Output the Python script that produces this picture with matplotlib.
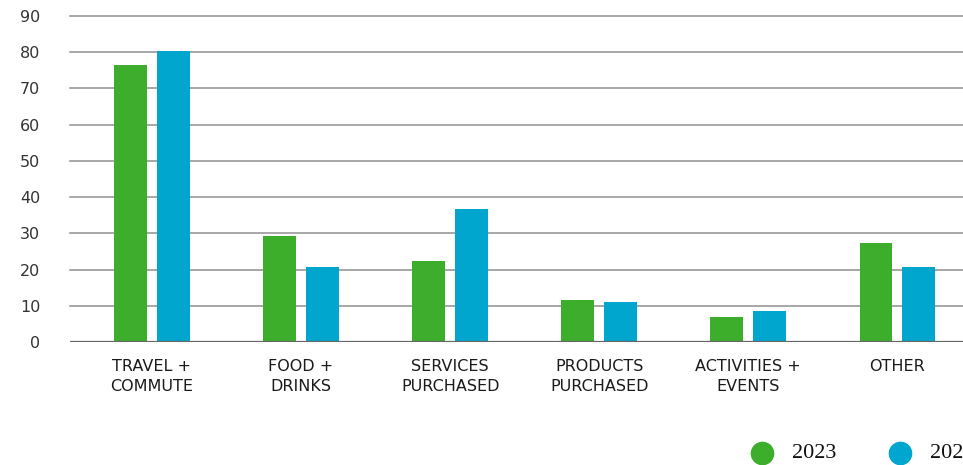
import matplotlib.pyplot as plt
from matplotlib.lines import Line2D
import numpy as np

plt.rcParams['font.family'] = ['DejaVu Sans']

# Dados do gráfico
categorias = ['TRAVEL +\nCOMMUTE', 'FOOD +\nDRINKS', 'SERVICES\nPURCHASED',
              'PRODUCTS\nPURCHASED', 'ACTIVITIES +\nEVENTS', 'OTHER']
valores_2023 = [76.5, 29.3, 22.4, 11.6, 6.9, 27.3]
valores_2024 = [80.4, 20.7, 36.7, 11.0, 8.6, 20.7]
anos = ['2023', '2024']
cores = ['#3DAE2B', '#00A6CE']

fig = plt.figure(figsize=(9.63, 4.65), dpi=100)
ax = fig.add_axes([70 / 963, 123 / 465, 1 - 70 / 963, 326 / 465])

x = np.arange(len(categorias))
largura = 0.22
desloc = 0.144
ax.bar(x - desloc, valores_2023, largura, color=cores[0], zorder=3)
ax.bar(x + desloc, valores_2024, largura, color=cores[1], zorder=3)

ax.set_xlim(-0.55, 5.44)
ax.set_ylim(0, 90)
ax.set_yticks(range(0, 91, 10))
ax.set_xticks(x)
ax.set_xticklabels(categorias, fontsize=11.5, color='#1a1a1a', linespacing=1.35)

# Linhas de grade horizontais
for v in range(10, 91, 10):
    ax.axhline(v, color='#8f8f8f', linewidth=1.1, zorder=1, clip_on=False)
ax.axhline(0, color='#666666', linewidth=1.6, zorder=4)

for s in ax.spines.values():
    s.set_visible(False)
ax.tick_params(axis='y', length=0, pad=21.5, labelsize=11.5, labelcolor='#333333')
ax.tick_params(axis='x', length=0, pad=12.5)

# Legenda manual na parte de baixo (cortada na borda direita como no original)
for i, ano in enumerate(anos):
    cx = (762 + 138 * i) / 963
    fig.add_artist(Line2D([cx], [12 / 465], marker='o', markersize=16,
                          color=cores[i], linestyle='none',
                          transform=fig.transFigure))
    fig.text(cx + 30 / 963, 12 / 465, ano, fontsize=16, family='Liberation Serif',
             va='center', ha='left', color='#111111')

fig.savefig('out.png', dpi=100)
